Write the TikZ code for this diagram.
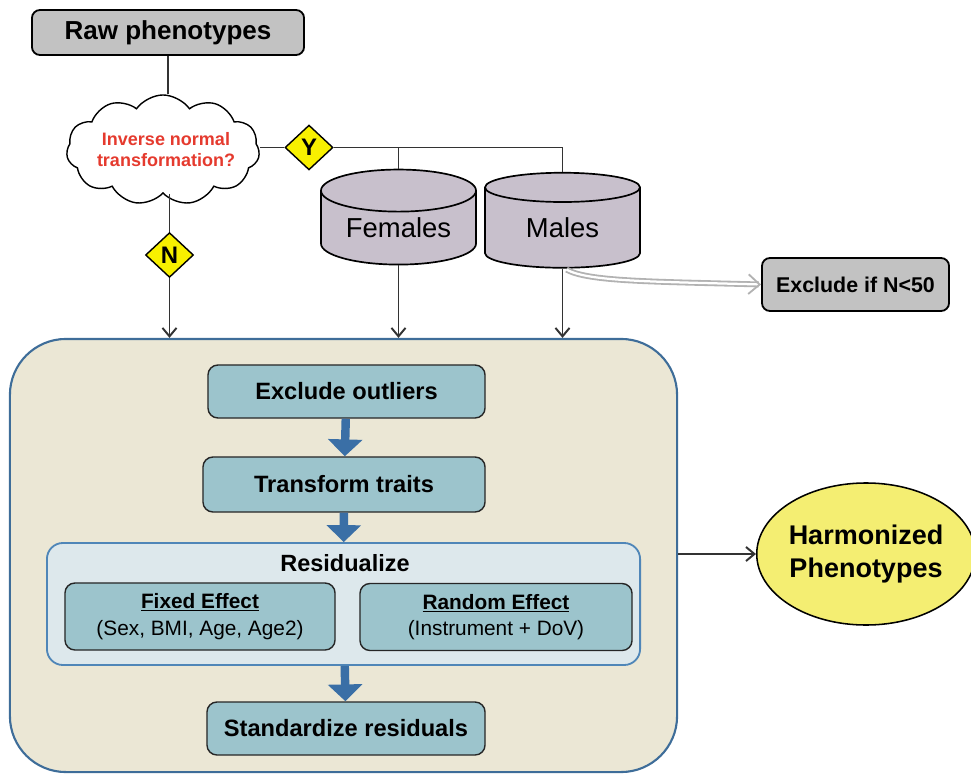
\documentclass[tikz,border=0pt]{standalone}
\usepackage{fontspec}
\setmainfont{Liberation Sans}
\usetikzlibrary{shapes.geometric,shapes.symbols,arrows.meta}

\definecolor{boxgray}{HTML}{C2C2C2}
\definecolor{cylgray}{HTML}{C8C0CC}
\definecolor{signyellow}{HTML}{F8F000}
\definecolor{harmyellow}{HTML}{F4EE72}
\definecolor{qred}{HTML}{E53A2E}
\definecolor{procfill}{HTML}{EBE7D5}
\definecolor{procline}{HTML}{3E6D99}
\definecolor{residfill}{HTML}{DDE8EC}
\definecolor{residline}{HTML}{4F86B8}
\definecolor{stepfill}{HTML}{9CC4CC}
\definecolor{flowblue}{HTML}{3A6FA6}

\begin{document}
\begin{tikzpicture}[
  x=0.025cm,
  y=-0.025cm,
  graybox/.style={
    rectangle,
    draw=black,
    line width=1.3pt,
    fill=boxgray,
    rounded corners=0.2cm,
    inner sep=0pt,
    font=\bfseries
  },
  decide/.style={
    diamond,
    draw=black,
    line width=1pt,
    fill=signyellow,
    inner sep=0pt,
    minimum width=1.2cm,
    minimum height=1.12cm,
    font=\bfseries\fontsize{17}{20}\selectfont
  },
  cyl/.style={
    cylinder,
    shape border rotate=90,
    aspect=0.4,
    draw=black,
    line width=1.2pt,
    cylinder uses custom fill,
    cylinder body fill=cylgray,
    cylinder end fill=cylgray,
    minimum width=3.875cm,
    minimum height=2.375cm,
    inner sep=0pt,
    font=\fontsize{19.5}{22}\selectfont
  },
  stepbox/.style={
    rectangle,
    draw=black!85,
    line width=1pt,
    fill=stepfill,
    rounded corners=0.25cm,
    inner sep=0pt,
    font=\bfseries\fontsize{16.8}{20}\selectfont
  },
  line/.style={
    draw=black!80,
    line width=1.4pt
  },
  arr/.style={
    line,
    -{Straight Barb[length=6pt,width=10pt]}
  },
  flow/.style={
    draw=flowblue,
    line width=6pt,
    -{Triangle[length=12pt,width=24pt]}
  },
  exarr/.style={
    draw=gray!60,
    double=white,
    double distance=1.6pt,
    line width=1.3pt,
    -{Straight Barb[length=8pt,width=14pt]}
  },
]
\useasboundingbox (0,0) rectangle (971,774);

\node[graybox, minimum width=6.8cm, minimum height=1.125cm,
  font=\bfseries\fontsize{18.5}{22}\selectfont] (raw) at (168,32.5) {Raw phenotypes};
\node[cloud, cloud puffs=11, cloud puff arc=110, aspect=1.75, draw=black,
  line width=1pt, fill=white, minimum width=4.825cm, minimum height=2.75cm] (cloud) at (163,150) {};
\node[text=qred, align=center, font=\bfseries\fontsize{12.8}{15}\selectfont] (question) at (166,150)
  {Inverse normal\\transformation?};
\node[decide] (ydia) at (309,147.5) {Y};
\node[decide] (ndia) at (169.5,255) {N};
\node[cyl] (fem) at (398.5,228) {Females};
\node[cyl] (mal) at (562.5,228) {Males};
\node[graybox, minimum width=4.675cm, minimum height=1.325cm,
  font=\bfseries\fontsize{15.2}{18}\selectfont] (excl) at (855.5,284.5) {Exclude if N<50};

\draw[line] (raw.south) -- (raw.south |- cloud.north);
\draw[line] (cloud.east |- ydia) -- (ydia.west);
\draw[line] (ydia.east) -- (ydia.east -| mal.north) -- (mal.north);
\draw[line] (ydia.east -| fem.north) -- (fem.north);
\draw[line] (ndia.north |- cloud.south) -- (ndia.north);

\node[rectangle, draw=procline, line width=1.5pt, fill=procfill, rounded corners=1.4cm,
  minimum width=16.675cm, minimum height=10.825cm] (proc) at (343.5,555.5) {};
\draw[arr] (ndia.south) -- (ndia.south |- proc.north);
\draw[arr] (fem.south) -- (fem.south |- proc.north);
\draw[arr] (mal.south) -- (mal.south |- proc.north);
\draw[exarr] ([shift={(4,1)}]mal.south) .. controls +(22,12) and +(-110,-3) .. (excl.west);

\node[stepbox, minimum width=6.925cm, minimum height=1.325cm] (outl) at (346.5,391.5) {Exclude outliers};
\node[stepbox, minimum width=7.05cm, minimum height=1.375cm] (trans) at (344,484.5) {Transform traits};
\node[rectangle, draw=residline, line width=1.3pt, fill=residfill, rounded corners=0.4cm,
  minimum width=14.825cm, minimum height=3.05cm] (resid) at (343.5,604) {};
\node[font=\bfseries\fontsize{16.7}{20}\selectfont] (residtitle) at (345,563) {Residualize};
\node[stepbox, minimum width=6.75cm, minimum height=1.675cm, align=center,
  font=\fontsize{14.8}{19}\selectfont] (fixed) at (200,616.5)
  {\textbf{\underline{Fixed Effect}}\\(Sex, BMI, Age, Age2)};
\node[stepbox, minimum width=6.8cm, minimum height=1.675cm, align=center,
  font=\fontsize{14.8}{19}\selectfont] (random) at (496,617)
  {\textbf{\underline{Random Effect}}\\(Instrument + DoV)};
\node[stepbox, minimum width=6.95cm, minimum height=1.325cm] (stand) at (346,728.5) {Standardize residuals};

\draw[flow] (outl) -- (trans);
\draw[flow] (trans) -- (resid);
\draw[flow] (resid) -- (stand);

\node[ellipse, draw=black, line width=1.1pt, fill=harmyellow, inner sep=0pt,
  minimum width=5.2cm, minimum height=3.55cm, align=center,
  font=\bfseries\fontsize{19.2}{23}\selectfont] (harm) at (866,554) {Harmonized\\Phenotypes};
\draw[arr] (proc.east |- harm) -- (harm.west);
\end{tikzpicture}
\end{document}
